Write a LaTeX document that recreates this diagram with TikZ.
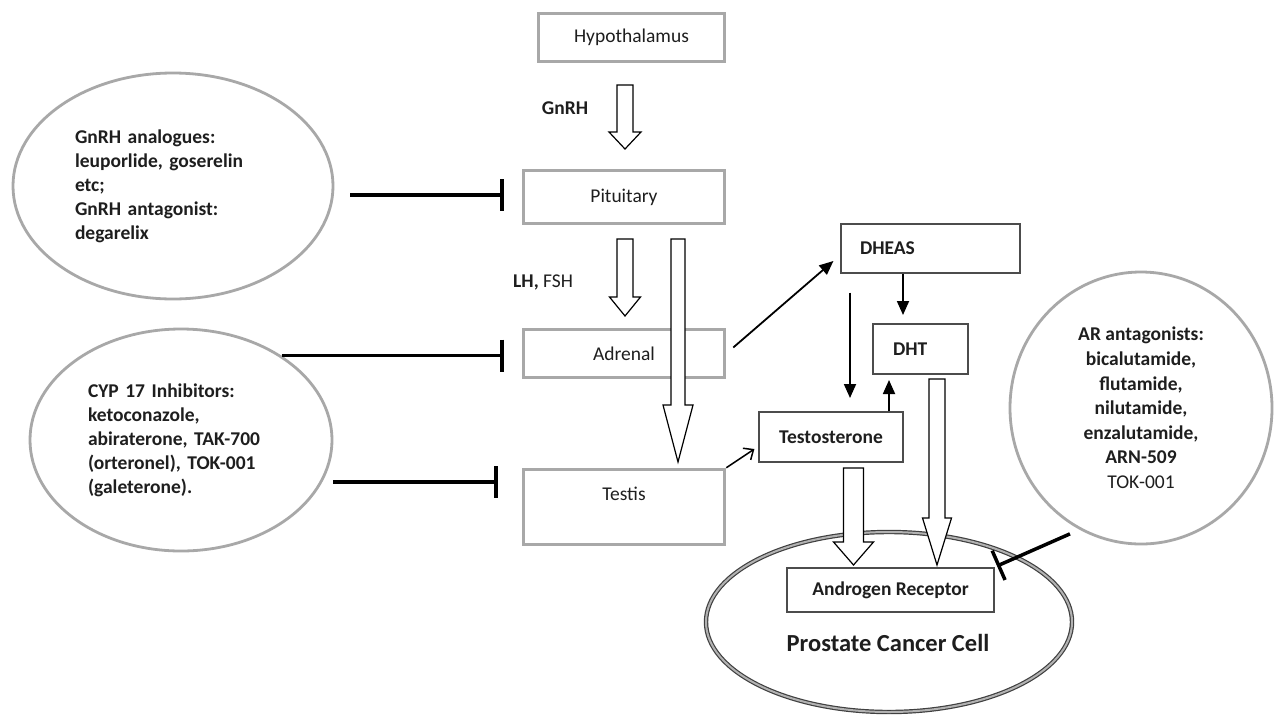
\documentclass[tikz,border=0pt]{standalone}
\usepackage{fontspec}
\setmainfont{Carlito}
\usetikzlibrary{shapes.geometric,arrows.meta,calc}
\definecolor{pcGray}{HTML}{A8A8A8}
\definecolor{pcInk}{HTML}{1E1E1E}
\newcommand{\pcSize}{\fontsize{19.5}{24}\selectfont}
% hollow block arrow: top, tip, shaft half width, head half width, head length
\newcommand{\pcHollowArrow}[5]{%
  \draw[hollow] let \p1=(#1), \p2=(#2) in
    (\x1-#3,\y1) -- (\x1-#3,\y2+#5) -- (\x1-#4,\y2+#5) -- (\x1,\y2)
    -- (\x1+#4,\y2+#5) -- (\x1+#3,\y2+#5) -- (\x1+#3,\y1) -- cycle;}

\begin{document}
\begin{tikzpicture}[x=1pt,y=-1pt,
  every node/.style={font=\pcSize, text=pcInk},
  gbox/.style={draw=pcGray, line width=3.5pt, inner sep=0pt},
  tbox/.style={draw=black!70, line width=1.2pt, inner sep=0pt, font=\pcSize\bfseries},
  drug/.style={ellipse, draw=pcGray, line width=2.8pt, inner sep=2pt, font=\pcSize\bfseries},
  hollow/.style={draw=black, line width=1.2pt, fill=white, line join=miter},
  flow/.style={draw=black, line width=1.8pt, -{Triangle[width=12pt,length=14pt]}},
  inhib/.style={draw=black, line width=3.5pt, -{Bar[width=32pt]}}]
\fill[white] (0,0) rectangle (1281,718);
\useasboundingbox (0,0) rectangle (1281,718);

% axis boxes
\node[gbox, minimum width=186pt, minimum height=48pt] (hyp) at (631.5,37.5) {Hypothalamus};
\node[gbox, minimum width=201pt, minimum height=53pt] (pit) at (624,197) {Pituitary};
\node[gbox, minimum width=201pt, minimum height=48pt] (adr) at (624,353.5) {Adrenal};
\node[gbox, minimum width=201pt, text height=19pt, text depth=33pt, inner ysep=11.5pt] (tes) at (624,507) {Testis};

% steroids
\node[tbox, minimum width=179pt, minimum height=49pt, text width=141pt, align=left] (dheas) at (930.5,248.5) {DHEAS};
\node[tbox, minimum width=95pt, minimum height=50pt, text width=55pt, align=left] (dht) at (920.5,349) {DHT};
\node[tbox, minimum width=144pt, minimum height=50pt] (tst) at (831,437) {Testosterone};

% cell
\node[ellipse, draw=black!75, double=black!30, double distance=2pt, line width=1.2pt,
  minimum width=366pt, minimum height=180pt] (cell) at (889,622) {};
\node[tbox, fill=white, minimum width=207pt, minimum height=44pt] (ar) at (890.5,590) {Androgen Receptor};
\node[font=\fontsize{24.5}{30}\selectfont\bfseries] (cellname) at (888,643) {Prostate Cancer Cell};

% drugs
\node[drug, minimum width=320pt, minimum height=226pt, text width=196pt, align=left] (gnrhdrug) at (173,186)
  {GnRH analogues:\\ leuporlide, goserelin\\ etc;\\ GnRH antagonist:\\ degarelix};
\node[drug, minimum width=302pt, minimum height=222pt, text width=186pt, align=left] (cypdrug) at (181,440)
  {CYP 17 Inhibitors:\\ ketoconazole,\\ abiraterone, TAK-700\\ (orteronel), TOK-001\\ (galeterone).};
\node[drug, minimum width=262pt, minimum height=272pt, align=center, font=\fontsize{19.5}{24.6}\selectfont\bfseries] (ardrug) at (1141,408)
  {AR antagonists:\\ bicalutamide,\\ flutamide,\\ nilutamide,\\ enzalutamide,\\ ARN-509\\ \mdseries TOK-001};

% hormone labels
\node[font=\pcSize\bfseries, inner sep=0pt] (gnrhlbl) at (565,108) {GnRH};
\node[anchor=west, inner sep=0pt] (lhlbl) at (513,282) {\textbf{LH,} FSH};

% block arrows
\coordinate (gnrhTop) at (625,85);   \coordinate (gnrhTip) at (625,149);
\coordinate (lhTop) at (625,239);    \coordinate (lhTip) at (625,316);
\coordinate (pitTop) at (678,239);   \coordinate (pitTip) at (678,462);
\coordinate (tstTop) at (853.5,468); \coordinate (tstTip) at (853.5,565);
\coordinate (dhtTop) at (937,379);   \coordinate (dhtTip) at (937,565);
\pcHollowArrow{gnrhTop}{gnrhTip}{8}{16}{17}
\pcHollowArrow{lhTop}{lhTip}{8}{15.5}{19}
\pcHollowArrow{pitTop}{pitTip}{7}{15}{57}
\pcHollowArrow{tstTop}{tstTip}{10}{20}{23}
\pcHollowArrow{dhtTop}{dhtTip}{8}{14.5}{47}

% conversions
\coordinate (dhtIn) at (903,315);
\coordinate (tstIn) at (850,398);
\coordinate (dhtUp) at (889,380);
\draw[flow] ($(adr.east)+(7,-6)$) -- ($(dheas.west)+(-7,12.5)$);
\draw[flow] (dhtIn |- dheas.south) -- (dhtIn);
\draw[flow] ($(tstIn |- dheas.south)+(0,19)$) -- (tstIn);
\draw[flow] (dhtUp |- tst.north) -- (dhtUp);
\draw[draw=black, line width=1.5pt, -{Straight Barb[length=8pt,width=14pt]}] (tes.north east) -- ($(tst.west)+(-4,12)$);

% inhibition
\coordinate (g1) at ($(gnrhdrug.east)+(16,9)$);
\coordinate (c3) at ($(cypdrug.east)+(0,42)$);
\coordinate (arEnd) at (997,566);
\draw[inhib, shorten >=18pt] (g1) -- (g1 -| pit.west);
\draw[inhib, shorten >=18pt] (cypdrug.40) -- (cypdrug.40 -| adr.west);
\draw[inhib, shorten >=24pt] (c3) -- (c3 -| tes.west);
\draw[inhib] ($(ardrug.240)+(-3,8)$) -- (arEnd);
\end{tikzpicture}
\end{document}
